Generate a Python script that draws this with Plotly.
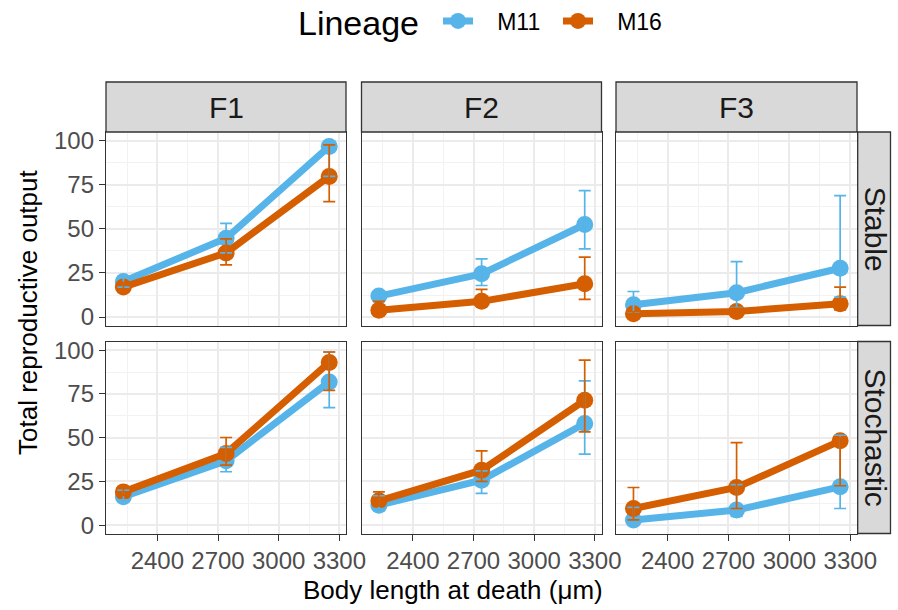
import plotly.graph_objects as go

# ---------------- data ----------------
generations = ["F1", "F2", "F3"]
environments = ["Stable", "Stochastic"]
lineages = ["M11", "M16"]
body_length = [2232, 2740, 3250]
x_tick_vals = [2400, 2700, 3000, 3300]
y_tick_vals = [0, 25, 50, 75, 100]

# per generation (F1, F2, F3): values at the three body lengths
m11_stable_mean = [[20.2, 44.7, 96.8], [11.9, 24.5, 52.5], [7.0, 13.8, 27.7]]
m11_stable_lo = [[17.0, 36.4, 79.8], [10.0, 17.9, 38.7], [2.8, 5.3, 11.3]]
m11_stable_hi = [[22.5, 53.2, 99.5], [14.0, 33.0, 71.7], [14.5, 31.5, 68.9]]
m16_stable_mean = [[17.0, 36.4, 79.8], [3.8, 8.9, 18.9], [1.9, 3.2, 7.5]]
m16_stable_lo = [[15.0, 29.6, 65.5], [2.0, 7.0, 10.0], [0.8, 1.5, 4.0]]
m16_stable_hi = [[19.5, 44.3, 97.7], [8.9, 15.7, 34.0], [3.0, 5.0, 17.0]]

m11_stoch_mean = [[16.2, 36.8, 81.9], [11.4, 25.7, 58.1], [2.9, 8.6, 21.9]]
m11_stoch_lo = [[14.5, 30.5, 67.2], [9.5, 18.1, 40.6], [1.5, 5.0, 9.5]]
m11_stoch_hi = [[20.0, 44.4, 99.0], [16.8, 31.0, 82.5], [10.1, 23.2, 51.4]]
m16_stoch_mean = [[19.0, 41.0, 93.0], [13.9, 31.4, 71.4], [9.5, 21.5, 48.2]]
m16_stoch_lo = [[17.0, 34.3, 77.1], [11.0, 25.0, 53.3], [3.0, 9.5, 22.5]]
m16_stoch_hi = [[21.0, 50.1, 99.0], [19.0, 42.5, 94.3], [21.5, 47.2, 50.0]]

colors = {"M11": "#56B4E9", "M16": "#D55E00"}

series = {
    ("Stable", "M11"): (m11_stable_mean, m11_stable_lo, m11_stable_hi),
    ("Stable", "M16"): (m16_stable_mean, m16_stable_lo, m16_stable_hi),
    ("Stochastic", "M11"): (m11_stoch_mean, m11_stoch_lo, m11_stoch_hi),
    ("Stochastic", "M16"): (m16_stoch_mean, m16_stoch_lo, m16_stoch_hi),
}

# ---------------- layout geometry (pixels) ----------------
W, H = 898, 610
def px(x):
    return x / W
def py(y):
    return 1 - y / H

col_x = [(106, 346), (361.5, 601.5), (616, 857)]
row_y = [(132, 325.5), (341.5, 533.5)]
strip_top = 82
strip_right = 890.5
FONT = "Liberation Sans, Arial, sans-serif"
NB = "&nbsp;"
TICK_SIZE = 24
STRIP_SIZE = 30

fig = go.Figure()
layout = dict(
    width=W, height=H, margin=dict(l=0, r=0, t=0, b=0, autoexpand=False),
    plot_bgcolor="white", paper_bgcolor="white",
    font=dict(family=FONT, color="#1A1A1A"),
    showlegend=True,
)

for r, env in enumerate(environments):
    for c, gen in enumerate(generations):
        idx = r * 3 + c + 1
        xs = "" if idx == 1 else str(idx)
        xa, ya = "x" + xs, "y" + xs
        # lines + points
        for lin in lineages:
            mean, lo, hi = series[(env, lin)]
            fig.add_trace(go.Scatter(
                x=body_length, y=mean[c], mode="lines+markers",
                name=NB * 3 + lin + NB * 2,
                legendgroup=lin, showlegend=(idx == 1),
                line=dict(color=colors[lin], width=7),
                marker=dict(color=colors[lin], size=17),
                xaxis=xa, yaxis=ya, hoverinfo="skip"))
        # error bars on top
        for lin in lineages:
            mean, lo, hi = series[(env, lin)]
            m = mean[c]
            fig.add_trace(go.Scatter(
                x=body_length, y=m, mode="markers",
                marker=dict(size=2, opacity=0, color=colors[lin]),
                error_y=dict(type="data", symmetric=False,
                             array=[h - v for h, v in zip(hi[c], m)],
                             arrayminus=[v - l for v, l in zip(m, lo[c])],
                             color=colors[lin], thickness=1.7, width=6),
                showlegend=False, hoverinfo="skip", xaxis=xa, yaxis=ya))

        bottom = (r == 1)
        left = (c == 0)
        layout["xaxis" + xs] = dict(
            domain=[px(col_x[c][0]), px(col_x[c][1])], anchor=ya,
            range=[2146, 3333], tickmode="array", tickvals=x_tick_vals,
            showticklabels=bottom, ticks="outside" if bottom else "",
            ticklen=6, tickwidth=1.3, tickcolor="#333333",
            tickfont=dict(size=TICK_SIZE, color="#4D4D4D", family=FONT),
            showgrid=True, gridcolor="#EBEBEB", gridwidth=1.5,
            minor=dict(tickmode="array", tickvals=[2250, 2550, 2850, 3150],
                       showgrid=True, gridcolor="#F2F2F2", gridwidth=1, ticks=""),
            showline=True, mirror=True, linecolor="#333333", linewidth=1.3,
            zeroline=False, fixedrange=True)
        layout["yaxis" + xs] = dict(
            domain=[py(row_y[r][1]), py(row_y[r][0])], anchor=xa,
            range=[-4.8, 105], tickmode="array", tickvals=y_tick_vals,
            showticklabels=left, ticks="outside" if left else "",
            ticklen=6, tickwidth=1.3, tickcolor="#333333",
            tickfont=dict(size=TICK_SIZE, color="#4D4D4D", family=FONT),
            showgrid=True, gridcolor="#EBEBEB", gridwidth=1.5,
            minor=dict(tickmode="array", tickvals=[12.5, 37.5, 62.5, 87.5],
                       showgrid=True, gridcolor="#F2F2F2", gridwidth=1, ticks=""),
            showline=True, mirror=True, linecolor="#333333", linewidth=1.3,
            zeroline=False, fixedrange=True)

shapes = []
annotations = []
# top strips
for c, gen in enumerate(generations):
    x0, x1 = col_x[c]
    shapes.append(dict(type="rect", xref="paper", yref="paper",
                       x0=px(x0), x1=px(x1), y0=py(row_y[0][0]), y1=py(strip_top),
                       fillcolor="#D9D9D9", line=dict(color="#333333", width=1.3)))
    annotations.append(dict(text=gen, xref="paper", yref="paper",
                            x=px((x0 + x1) / 2), y=py((strip_top + row_y[0][0]) / 2),
                            showarrow=False, font=dict(size=STRIP_SIZE, color="#1A1A1A", family=FONT),
                            xanchor="center", yanchor="middle"))
# right strips
for r, env in enumerate(environments):
    y0, y1 = row_y[r]
    x0 = col_x[2][1] + 0.7
    shapes.append(dict(type="rect", xref="paper", yref="paper",
                       x0=px(x0), x1=px(strip_right), y0=py(y1), y1=py(y0),
                       fillcolor="#D9D9D9", line=dict(color="#333333", width=1.3)))
    annotations.append(dict(text=env, xref="paper", yref="paper",
                            x=px((x0 + strip_right) / 2 + 1), y=py((y0 + y1) / 2),
                            textangle=90, showarrow=False,
                            font=dict(size=STRIP_SIZE, color="#1A1A1A", family=FONT),
                            xanchor="center", yanchor="middle"))
# axis titles
annotations.append(dict(text="Body length at death (μm)", xref="paper", yref="paper",
                        x=px(453), y=py(590),
                        showarrow=False, font=dict(size=26, color="black", family=FONT),
                        xanchor="center", yanchor="middle"))
annotations.append(dict(text="Total reproductive output", xref="paper", yref="paper",
                        x=px(28), y=py(312), textangle=-90,
                        showarrow=False, font=dict(size=26, color="black", family=FONT),
                        xanchor="center", yanchor="middle"))
# legend title
annotations.append(dict(text="Lineage", xref="paper", yref="paper",
                        x=px(296), y=py(23), showarrow=False,
                        font=dict(size=34, color="black", family=FONT),
                        xanchor="left", yanchor="middle"))

layout["shapes"] = shapes
layout["annotations"] = annotations
layout["legend"] = dict(
    orientation="h", x=px(438), xanchor="left", y=py(21), yanchor="middle",
    font=dict(size=23, color="black", family=FONT), itemwidth=30,
    bgcolor="rgba(0,0,0,0)", tracegroupgap=0)

fig.update_layout(**layout)
fig.write_html("out.html", config={"displayModeBar": False},
               post_script="document.body.style.margin='0';")
